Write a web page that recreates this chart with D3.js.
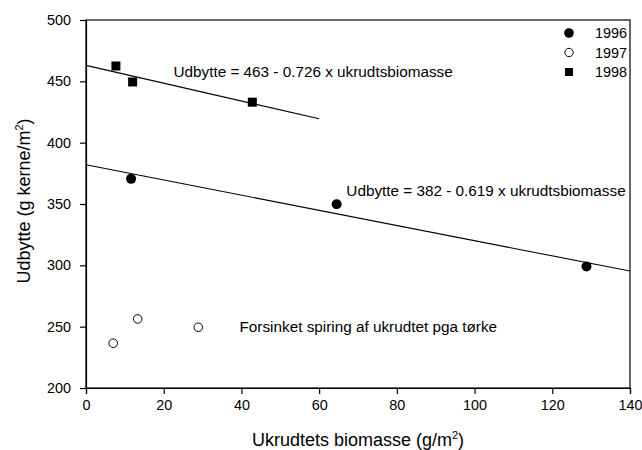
<!DOCTYPE html>
<html><head><meta charset="utf-8">
<script src="https://cdn.jsdelivr.net/npm/d3@7"></script>
<style>body{margin:0;background:#fff}svg{display:block}text{font-family:"Liberation Sans",Arial,sans-serif;fill:#000}</style>
</head><body>
<script>
const xTicks = [0,20,40,60,80,100,120,140];
const yTicks = [200,250,300,350,400,450,500];
const x1996 = [11.6, 64.5, 128.8];
const y1996 = [370.5, 349.8, 299];
const x1997 = [7.0, 13.3, 28.9];
const y1997 = [236.5, 256.3, 249.5];
const x1998 = [7.7, 12.0, 42.8];
const y1998 = [462.5, 449.5, 433];
const fit1996 = {a:382, b:-0.619, x0:0, x1:140};
const fit1998 = {a:463, b:-0.726, x0:0, x1:60};
const legendYears = ["1996","1997","1998"];
const labels = [
  {text:"Udbytte = 463 - 0.726 x ukrudtsbiomasse", x:22.5, y:458},
  {text:"Udbytte = 382 - 0.619 x ukrudtsbiomasse", x:67, y:361},
  {text:"Forsinket spiring af ukrudtet pga tørke", x:39.5, y:250}
];

const W=642,H=450;
const svg=d3.select("body").append("svg").attr("width",W).attr("height",H);
const m={l:86,r:630,t:20,b:388};
const x=d3.scaleLinear().domain([0,140]).range([m.l,m.r]);
const y=d3.scaleLinear().domain([200,500]).range([m.b,m.t]);

// frame
svg.append("rect").attr("x",m.l).attr("y",m.t).attr("width",m.r-m.l).attr("height",m.b-m.t)
  .attr("fill","none").attr("stroke","#000").attr("stroke-width",1.2);

const xa=svg.append("g").attr("transform",`translate(0,${m.b})`)
  .call(d3.axisBottom(x).tickValues(xTicks).tickSize(6).tickPadding(6).tickFormat(d3.format("d")));
const ya=svg.append("g").attr("transform",`translate(${m.l},0)`)
  .call(d3.axisLeft(y).tickValues(yTicks).tickSize(6).tickPadding(9).tickFormat(d3.format("d")));
[xa,ya].forEach(g=>{g.select(".domain").attr("stroke-width",1.2);
  g.selectAll(".tick line").attr("stroke-width",1.2);
  g.selectAll("text").attr("font-family","Liberation Sans, Arial, sans-serif").attr("font-size",14.4).attr("fill","#000");});

// regression lines
[fit1996,fit1998].forEach(f=>{
  svg.append("line").attr("x1",x(f.x0)).attr("y1",y(f.a+f.b*f.x0))
    .attr("x2",x(f.x1)).attr("y2",y(f.a+f.b*f.x1)).attr("stroke","#000").attr("stroke-width",1.1);
});

// points
svg.selectAll(".p96").data(x1996.map((v,i)=>[v,y1996[i]])).enter().append("circle")
  .attr("cx",d=>x(d[0])).attr("cy",d=>y(d[1])).attr("r",5).attr("fill","#000");
svg.selectAll(".p97").data(x1997.map((v,i)=>[v,y1997[i]])).enter().append("circle")
  .attr("cx",d=>x(d[0])).attr("cy",d=>y(d[1])).attr("r",4.3).attr("fill","#fff").attr("stroke","#000").attr("stroke-width",1);
svg.selectAll(".p98").data(x1998.map((v,i)=>[v,y1998[i]])).enter().append("rect")
  .attr("x",d=>x(d[0])-4.5).attr("y",d=>y(d[1])-4.5).attr("width",9).attr("height",9).attr("fill","#000");

// annotations
labels.forEach(l=>{
  svg.append("text").attr("x",x(l.x)).attr("y",y(l.y)).attr("dy","0.35em")
    .attr("font-size",15.3).text(l.text);
});

// legend
const lgY=[33,52.5,72], lgX=569;
legendYears.forEach((t,i)=>{
  const cy=lgY[i];
  if(i===0) svg.append("circle").attr("cx",lgX).attr("cy",cy).attr("r",4.8).attr("fill","#000");
  if(i===1) svg.append("circle").attr("cx",lgX).attr("cy",cy).attr("r",4.2).attr("fill","#fff").attr("stroke","#000");
  if(i===2) svg.append("rect").attr("x",lgX-4).attr("y",cy-4).attr("width",8).attr("height",8).attr("fill","#000");
  svg.append("text").attr("x",595).attr("y",cy).attr("dy","0.35em").attr("font-size",14.4).text(t);
});

// axis titles
const xt=svg.append("text").attr("x",(m.l+m.r)/2).attr("y",445.5).attr("text-anchor","middle").attr("font-size",18);
xt.append("tspan").text("Ukrudtets biomasse (g/m");
xt.append("tspan").attr("font-size",11).attr("dy",-7).text("2");
xt.append("tspan").attr("dy",7).text(")");
const yt=svg.append("text").attr("transform","translate(30,201) rotate(-90)").attr("text-anchor","middle").attr("font-size",18);
yt.append("tspan").text("Udbytte (g kerne/m");
yt.append("tspan").attr("font-size",11).attr("dy",-7).text("2");
yt.append("tspan").attr("dy",7).text(")");
</script>
</body></html>
